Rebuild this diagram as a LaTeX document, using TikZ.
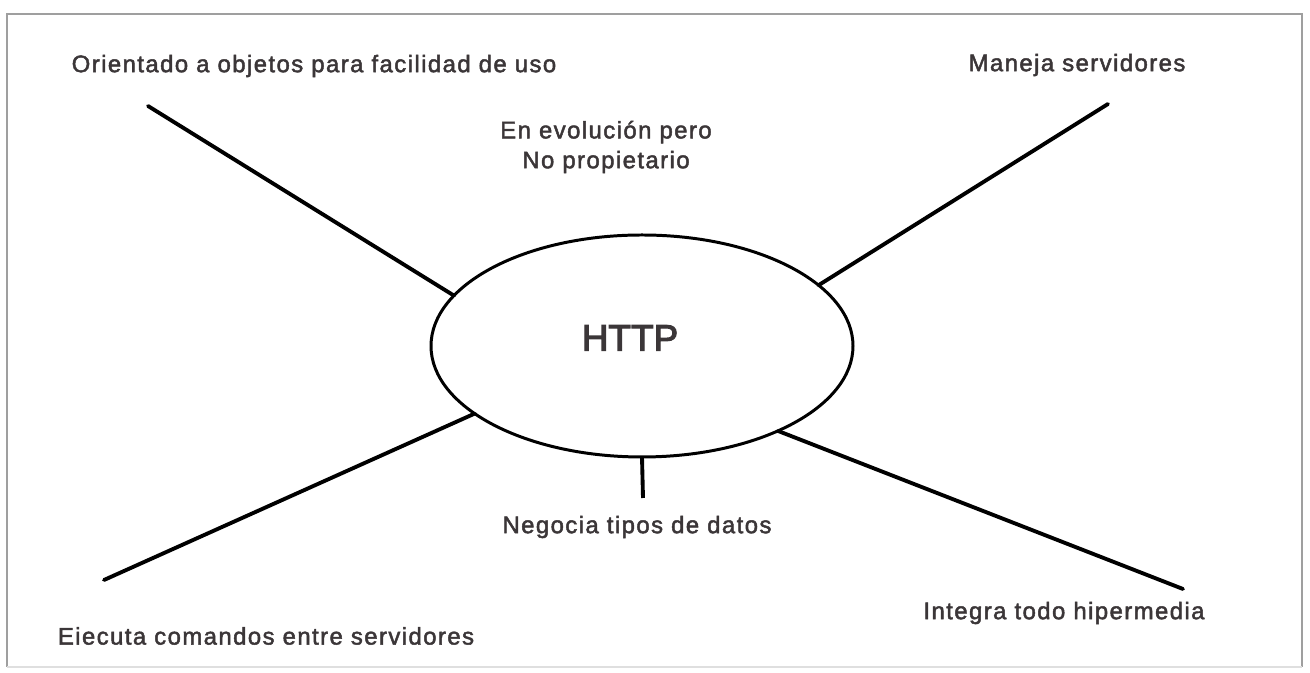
\documentclass[tikz,border=0pt]{standalone}
\usepackage{fontspec}
\usetikzlibrary{shapes.geometric}
\setmainfont{Liberation Sans}[LetterSpace=6, FakeBold=2]
\newfontfamily\httpfont{Liberation Sans}[FakeBold=3]
\definecolor{txtgray}{HTML}{3B3638}
\tikzset{
  lbl/.style={text=txtgray, font=\fontsize{13.6}{17}\selectfont, inner sep=0pt},
  spoke/.style={line width=2.2pt, line cap=round},
  frame/.style={draw=gray!75, line width=1.1pt}
}
\begin{document}
\begin{tikzpicture}
      \useasboundingbox (0, 0) rectangle (26.2, 13.46);
      \draw[frame] (0.14, 0.12) -- (0.14, 13.18) -- (26.04, 13.18) -- (26.04, 0.12);
      \draw[draw=gray!25, line width=0.8pt] (0.14, 0.12) to (26.04, 0.12);
      \node[draw, ellipse, line width=1.7pt, minimum width=8.44cm, minimum height=4.44cm, outer sep=0pt] (http) at (12.84, 6.54){};
      \node[text=txtgray, font=\httpfont\fontsize{21}{24}\selectfont] (httplbl) at (12.6, 6.7){HTTP};
      \coordinate (ul) at (2.96, 11.34);
      \coordinate (ur) at (22.16, 11.38);
      \coordinate (ll) at (2.08, 1.86);
      \coordinate (lr) at (23.66, 1.68);
      \coordinate (bt) at (12.86, 3.5);
      \draw[spoke] (http.165.6) to (ul);
      \draw[spoke] (http.19.8) to (ur);
      \draw[spoke] (http.202.3) to (ll);
      \draw[spoke] (http.328.2) to (lr);
      \draw[spoke, line cap=butt] (http.south) to (bt);
      \node[lbl] (objetos) at (6.28, 12.14){Orientado a objetos para facilidad de uso};
      \node[lbl] (maneja) at (21.54, 12.16){Maneja servidores};
      \node[lbl, align=center] (evol) at (12.12, 10.52){En evolución pero\\No propietario};
      \node[lbl] (negocia) at (12.74, 2.92){Negocia tipos de datos};
      \node[lbl] (ejecuta) at (5.32, 0.74){Eiecuta comandos entre servidores};
      \node[lbl] (integra) at (21.28, 1.2){Integra todo hipermedia};
    \end{tikzpicture}
\end{document}
